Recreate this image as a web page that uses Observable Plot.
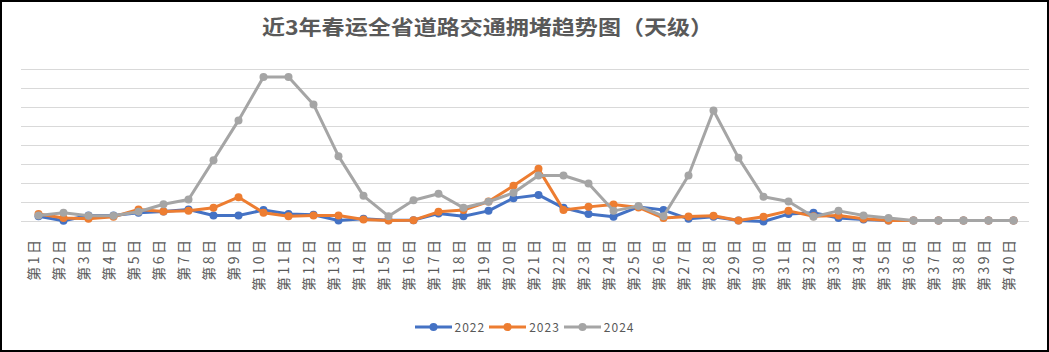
<!DOCTYPE html>
<html><head><meta charset="utf-8">
<script src="https://cdn.jsdelivr.net/npm/d3@7"></script>
<script src="https://cdn.jsdelivr.net/npm/@observablehq/plot@0.6"></script>
<style>
body{margin:0;background:#fff;}
#chart{position:relative;width:1049px;height:352px;overflow:hidden;background:#fff;font-family:"Noto Sans CJK SC","Noto Sans",sans-serif;}
#frame{position:absolute;left:0;top:0;width:1049px;height:352px;box-sizing:border-box;border:2px solid #000;pointer-events:none;z-index:5;}
#title{position:absolute;left:262px;top:17px;font-size:20px;line-height:20px;font-weight:bold;color:#595959;white-space:nowrap;transform-origin:0 50%;}
#plot{position:absolute;left:0;top:0;}
#legend{position:absolute;left:0;top:318px;width:1049px;display:flex;justify-content:center;align-items:center;font-size:12px;color:#595959;letter-spacing:1px;}
#legend .item{display:flex;align-items:center;margin:0 2px;}
#legend svg{margin-right:3px;}
</style></head><body>
<div id="chart">
  <div id="plot"></div>
  <div id="title">近3年春运全省道路交通拥堵趋势图（天级）</div>
  <div id="legend"></div>
  <div id="frame"></div>
</div>
<script>
const title = "近3年春运全省道路交通拥堵趋势图（天级）";
const days = ["第1日","第2日","第3日","第4日","第5日","第6日","第7日","第8日","第9日","第10日",
  "第11日","第12日","第13日","第14日","第15日","第16日","第17日","第18日","第19日","第20日",
  "第21日","第22日","第23日","第24日","第25日","第26日","第27日","第28日","第29日","第30日",
  "第31日","第32日","第33日","第34日","第35日","第36日","第37日","第38日","第39日","第40日"];
const years = ["2022","2023","2024"];
const colors = ["#4472C4","#ED7D31","#A5A5A5"];
const y2022 = [0.28,0.04,0.32,0.32,0.46,0.53,0.63,0.32,0.32,0.60,0.39,0.35,0.05,0.14,0.07,0.07,0.42,0.28,0.56,1.23,
  1.40,0.72,0.39,0.25,0.77,0.60,0.14,0.25,0.05,0.00,0.39,0.46,0.18,0.11,0.05,0.05,0.05,0.05,0.05,0.05];
const y2023 = [0.39,0.18,0.14,0.25,0.63,0.53,0.56,0.72,1.28,0.46,0.28,0.32,0.32,0.11,0.05,0.07,0.51,0.60,1.05,1.88,
  2.77,0.61,0.77,0.89,0.74,0.18,0.26,0.30,0.05,0.25,0.56,0.28,0.32,0.14,0.05,0.05,0.05,0.05,0.05,0.05];
const y2024 = [0.32,0.46,0.30,0.30,0.51,0.91,1.16,3.23,5.32,7.61,7.61,6.16,3.44,1.35,0.28,1.12,1.46,0.72,1.04,1.51,
  2.42,2.42,2.00,0.56,0.81,0.28,2.42,5.84,3.35,1.30,1.05,0.25,0.56,0.32,0.18,0.05,0.05,0.05,0.05,0.05];
const yGrid = [0,1,2,3,4,5,6,7,8];

const series = [y2022, y2023, y2024];
const data = years.flatMap((yr, k) => days.map((d, i) => ({day: d, year: yr, v: series[k][i]})));

const marks = [Plot.ruleY(yGrid, {stroke: "#D9D9D9", strokeWidth: 1})];
years.forEach(yr => {
  const sub = data.filter(d => d.year === yr);
  marks.push(Plot.lineY(sub, {x: "day", y: "v", stroke: "year", strokeWidth: 3, strokeLinejoin: "round"}));
  marks.push(Plot.dot(sub, {x: "day", y: "v", fill: "year", r: 4, stroke: null}));
});
marks.push(Plot.text(days, {x: d => d, text: d => d, frameAnchor: "bottom", dy: 16, rotate: -90,
  textAnchor: "end", fontSize: 14, fill: "#595959", fontFamily: "Noto Sans CJK SC"}));

const plot = Plot.plot({
  width: 1049, height: 352,
  marginLeft: 21, marginRight: 20, marginTop: 69, marginBottom: 131,
  x: {type: "point", domain: days, padding: 0.5, axis: null},
  y: {domain: [0, 8], axis: null},
  color: {domain: years, range: colors},
  style: {background: "transparent", fontFamily: "Noto Sans CJK SC"},
  marks
});
d3.select(plot).selectAll('g[aria-label="text"] text').attr("letter-spacing", "2.5");
document.getElementById("plot").appendChild(plot);

// title stretch to reference width
const t = document.getElementById("title");
const w = t.getBoundingClientRect().width;
t.style.transform = `scaleX(${451 / w})`;

// legend
const leg = d3.select("#legend");
years.forEach((yr, k) => {
  const it = leg.append("div").attr("class", "item");
  const s = it.append("svg").attr("width", 37).attr("height", 10);
  s.append("line").attr("x1", 0).attr("x2", 37).attr("y1", 5).attr("y2", 5).attr("stroke", colors[k]).attr("stroke-width", 3);
  s.append("circle").attr("cx", 18.5).attr("cy", 5).attr("r", 4).attr("fill", colors[k]);
  it.append("span").text(yr);
});
</script>
</body></html>
